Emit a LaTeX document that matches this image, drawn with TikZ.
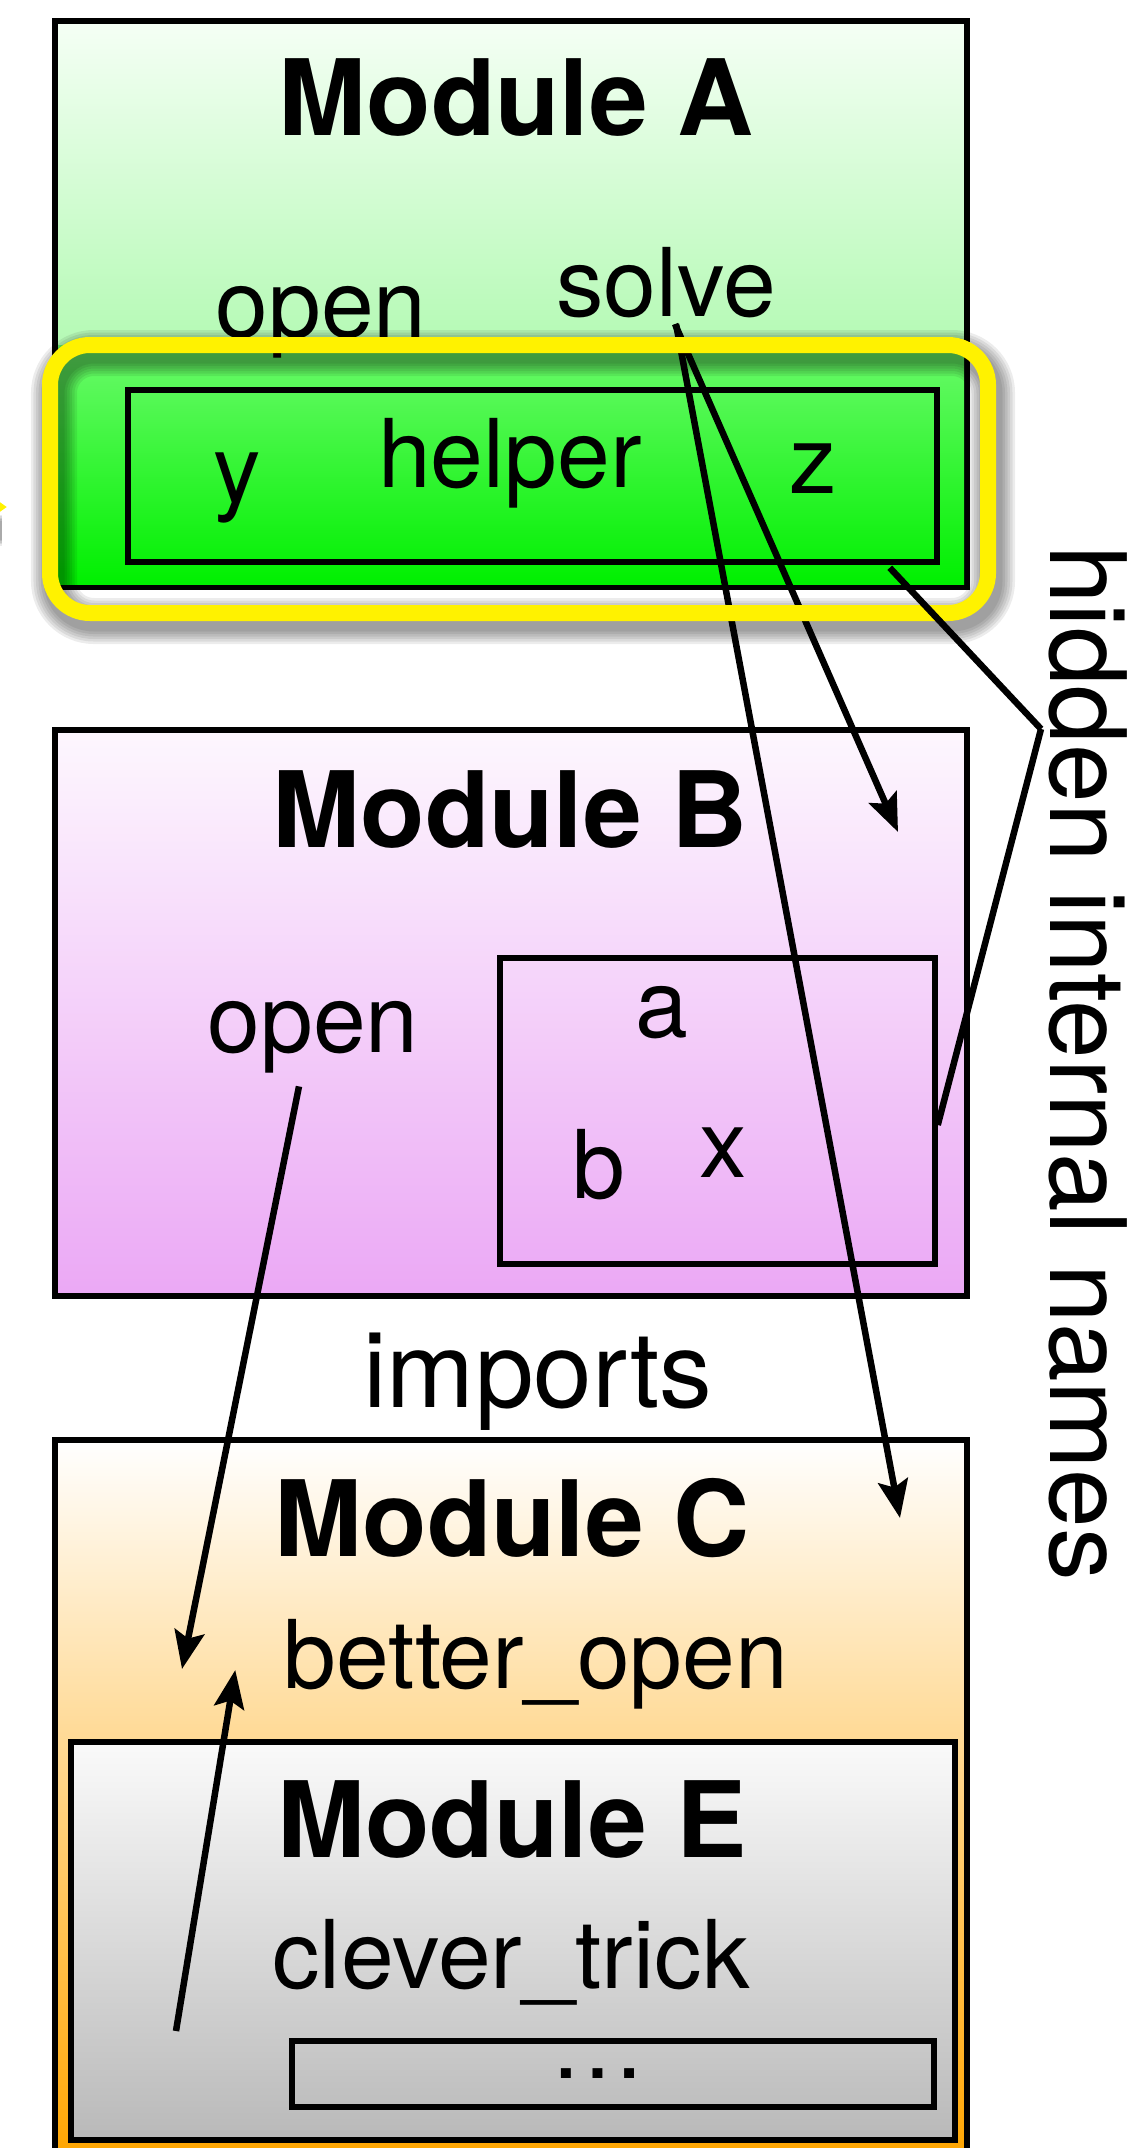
\documentclass[tikz,border=0pt]{standalone}
\usepackage{fontspec}
\setmainfont{TeX Gyre Heros}
\usepackage{tikz}
\usetikzlibrary{arrows.meta,positioning,calc}
\definecolor{atop}    {HTML}{F5FFF5}
\definecolor{abot}    {HTML}{84F584}
\definecolor{hltop}   {HTML}{6CFA6C}
\definecolor{hlbot}   {HTML}{00F000}
\definecolor{btop}    {HTML}{FDF7FE}
\definecolor{bbot}    {HTML}{EBA8F5}
\definecolor{ctop}    {HTML}{FFFFFF}
\definecolor{cbot}    {HTML}{FFA500}
\definecolor{etop}    {HTML}{FAFAFA}
\definecolor{ebot}    {HTML}{B9B9B9}
\definecolor{hlyellow}{HTML}{FFF200}

\begin{document}
\begin{tikzpicture}[x=1cm,y=1cm,
    modbox/.style={draw=black,line width=0.055cm,inner sep=0pt},
    privbox/.style={draw=black,line width=0.055cm,inner sep=0pt},
    modtitle/.style={anchor=base,inner sep=0pt,font=\fontsize{30}{36}\selectfont\bfseries},
    ident/.style={anchor=base,inner sep=0pt,font=\fontsize{27}{32}\selectfont},
    caption/.style={anchor=base,inner sep=0pt,font=\fontsize{30}{36}\selectfont},
    arr/.style={line width=0.065cm,-{Stealth[length=0.38cm,width=0.3cm,inset=0.07cm]}},
    tie/.style={line width=0.065cm}]
  \useasboundingbox (0,0) rectangle (11.37,-21.48);

  % pointer into the highlight, coming in from the left
  \foreach \k in {1,...,5}{
    \draw[black,opacity=0.08,line width=0.16cm+\k*0.03cm] (-1.2,-5.30) -- (0.02,-5.30);
  }
  \draw[hlyellow,line width=0.16cm,-{Triangle[length=0.3cm,width=0.4cm]}] (-1.2,-5.07) -- (0.07,-5.07);

  % modules
  \node[modbox,top color=atop,bottom color=abot,minimum width=9.12cm,minimum height=5.66cm] (moda) at (5.11,-3.04) {};
  \fill[top color=hltop,bottom color=hlbot] (0.58,-3.45) rectangle (9.64,-5.84);
  \node[modbox,top color=btop,bottom color=bbot,minimum width=9.12cm,minimum height=5.66cm] (modb) at (5.11,-10.13) {};
  \node[modbox,top color=ctop,bottom color=cbot,minimum width=9.12cm,minimum height=7.20cm] (modc) at (5.11,-18.00) {};
  \node[modbox,top color=etop,bottom color=ebot,minimum width=8.84cm,minimum height=3.98cm] (mode) at (5.13,-19.41) {};

  % private parts
  \node[privbox,minimum width=8.09cm,minimum height=1.72cm] (helperbox) at (5.325,-4.76) {};
  \node[privbox,minimum width=4.35cm,minimum height=3.06cm] (bpriv) at (7.175,-11.11) {};
  \node[privbox,minimum width=6.42cm,minimum height=0.66cm] (rest) at (6.13,-20.74) {};

  % Module A
  \node[modtitle] (titlea) at (5.16,-1.36) {Module A};
  \node[ident] (opena) at (3.21,-3.37) {open};
  \node[ident] (solve) at (6.66,-3.16) {solve};
  \node[ident] (yname) at (2.37,-5.02) {y};
  \node[ident] (helper) at (5.10,-4.87) {helper};
  \node[ident] (zname) at (8.13,-4.93) {z};

  % Module B
  \node[modtitle] (titleb) at (5.10,-8.47) {Module B};
  \node[ident] (openb) at (3.13,-10.52) {open};
  \node[ident] (aname) at (6.62,-10.37) {a};
  \node[ident] (bname) at (5.99,-11.98) {b};
  \node[ident] (xname) at (7.23,-11.77) {x};

  \node[caption] (imports) at (5.38,-14.07) {imports};

  % Module C and E
  \node[modtitle] (titlec) at (5.12,-15.56) {Module C};
  \node[ident] (betteropen) at (5.36,-16.88) {better\_open};
  \node[modtitle] (titlee) at (5.12,-18.57) {Module E};
  \node[ident] (clevertrick) at (5.11,-19.88) {clever\_trick};
  \node[ident] (dots) at (5.98,-20.78) {…};

  % arrow ends
  \coordinate (inB) at (8.98,-8.32);
  \coordinate (inC) at (9.00,-15.18);
  \coordinate (toC) at (1.82,-16.69);
  \coordinate (fromE) at (1.76,-20.31);
  \coordinate (hid) at (10.41,-7.29);

  \draw[arr] ([xshift=0.09cm,yshift=-0.06cm]solve.south) -- (inB);
  \draw[arr] ([xshift=0.10cm,yshift=-0.06cm]solve.south) -- (inC);
  \draw[arr] ([xshift=-0.14cm,yshift=-0.13cm]openb.south) -- (toC);
  \draw[arr] (fromE) -- ([xshift=-0.48cm,yshift=0.18cm]betteropen.base west);

  % highlight around the private part of A
  \foreach \k in {1,...,6}{
    \draw[black,opacity=0.075,line width=0.16cm+\k*0.05cm,rounded corners=0.4cm] (0.54,-3.53) rectangle (9.92,-6.21);
  }
  \draw[hlyellow,line width=0.16cm,rounded corners=0.4cm] (0.50,-3.45) rectangle (9.88,-6.13);

  % hidden names
  \node[caption,rotate=-90] (hidlbl) at (10.50,-10.63) {hidden internal names};
  \draw[tie] (hid) -- ([xshift=-0.50cm,yshift=-0.03cm]helperbox.south east);
  \draw[tie] (hid) -- ([yshift=-0.14cm]bpriv.east);
\end{tikzpicture}
\end{document}
